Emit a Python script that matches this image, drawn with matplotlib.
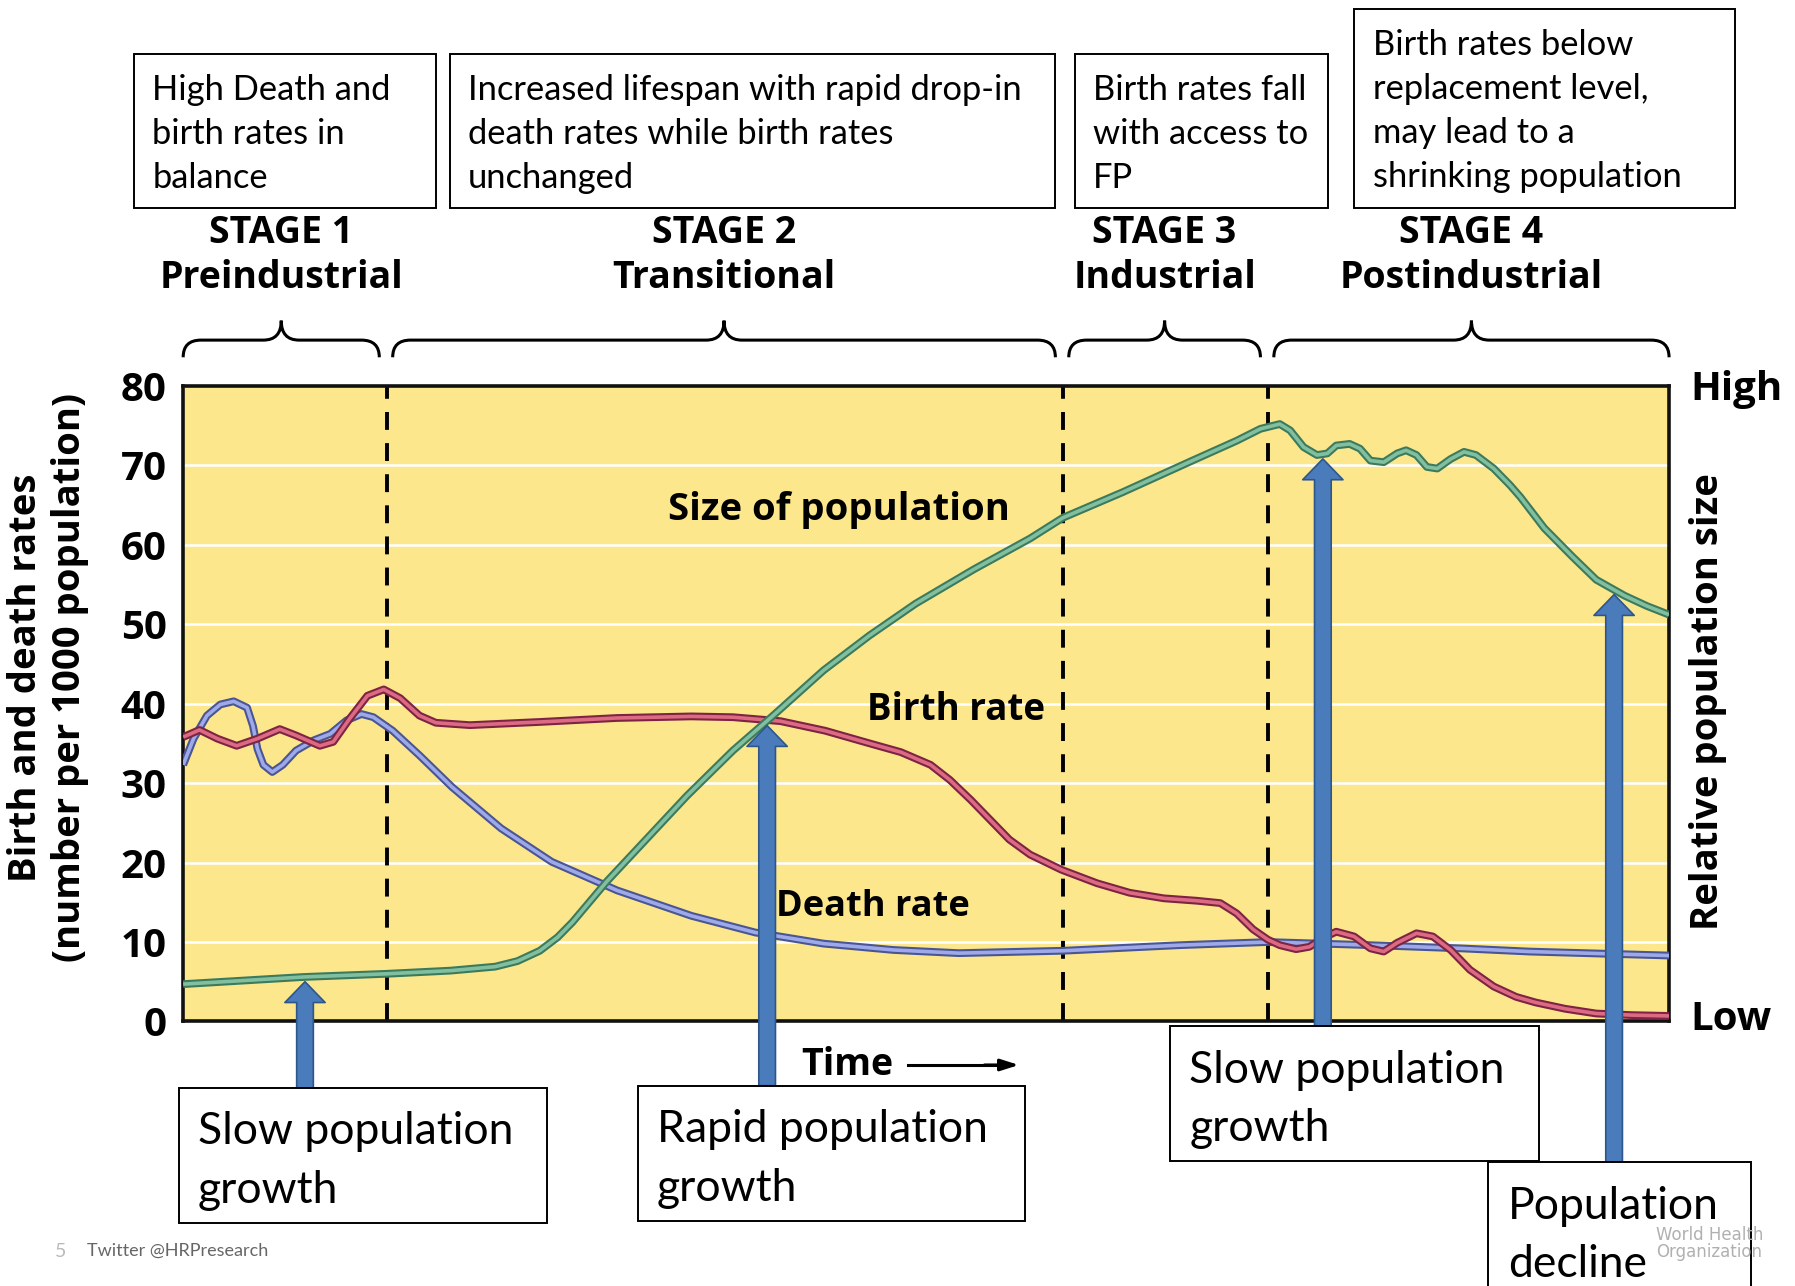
import numpy as np
import matplotlib.pyplot as plt
import matplotlib.transforms as mtransforms
from matplotlib.patches import Rectangle, PathPatch
from matplotlib.path import Path

# curves; time in arbitrary units 0-100
birth_t = [0.0, 1.1, 2.3, 3.6, 5.0, 6.5, 7.6, 9.2, 10.1, 11.2, 12.4, 13.5, 14.6, 15.9,
           17.0, 19.3, 24.0, 29.2, 34.2, 37.0, 40.2, 43.2, 46.2, 48.3, 50.3, 51.6, 53.0,
           54.3, 55.6, 57.0, 59.1, 61.5, 63.7, 66.0, 68.2, 69.8, 70.9, 72.0, 73.0, 73.8,
           74.9, 75.8, 76.7, 77.6, 78.8, 79.9, 80.8, 81.7, 83.0, 84.1, 85.3, 86.6, 88.2,
           89.7, 91.0, 93.0, 95.1, 97.5, 100.0]
birth_rate = [35.8, 36.7, 35.6, 34.7, 35.6, 36.8, 36.0, 34.7, 35.2, 38.1, 41.0, 41.8, 40.7, 38.5,
              37.6, 37.3, 37.7, 38.2, 38.4, 38.3, 37.8, 36.6, 35.0, 33.9, 32.3, 30.4, 27.9,
              25.4, 22.9, 21.0, 19.1, 17.4, 16.2, 15.5, 15.2, 14.9, 13.6, 11.6, 10.3, 9.6,
              9.1, 9.4, 10.5, 11.3, 10.7, 9.2, 8.8, 9.9, 11.1, 10.7, 9.0, 6.5, 4.4,
              3.1, 2.4, 1.6, 1.0, 0.8, 0.7]

death_t = [0.0, 0.7, 1.6, 2.5, 3.4, 4.3, 4.7, 5.0, 5.4, 6.0, 6.7, 7.6, 8.8, 9.9, 11.0,
           12.0, 12.8, 14.1, 15.9, 18.1, 21.4, 24.8, 29.2, 34.2, 38.5, 43.1, 47.8, 52.2,
           59.2, 67.0, 73.0, 80.0, 86.0, 90.6, 100.0]
death_rate = [32.3, 35.6, 38.5, 39.9, 40.3, 39.5, 37.2, 34.3, 32.3, 31.4, 32.3, 34.1, 35.4, 36.2, 37.9,
              38.7, 38.3, 36.6, 33.5, 29.5, 24.3, 20.1, 16.5, 13.3, 11.2, 9.8, 9.0, 8.6,
              8.9, 9.6, 10.0, 9.6, 9.2, 8.8, 8.3]

pop_t = [0.0, 8.1, 13.7, 18.0, 21.0, 22.5, 24.0, 25.2, 26.2, 28.5, 30.8, 33.9, 37.0, 39.7,
         43.1, 46.2, 49.3, 53.2, 57.0, 59.2, 63.2, 67.8, 70.9, 72.5, 73.8, 74.5, 75.4,
         76.3, 77.0, 77.6, 78.5, 79.2, 79.9, 80.8, 81.7, 82.3, 83.0, 83.7, 84.4, 85.3,
         86.2, 87.0, 88.2, 89.3, 90.0, 91.6, 93.5, 95.1, 97.0, 98.5, 100.0]
pop_size = [4.7, 5.6, 6.0, 6.4, 6.9, 7.6, 8.9, 10.6, 12.5, 17.6, 22.2, 28.4, 34.1, 38.5,
            44.2, 48.6, 52.6, 56.9, 60.8, 63.4, 66.6, 70.5, 73.1, 74.6, 75.2, 74.4, 72.3,
            71.3, 71.5, 72.5, 72.7, 72.1, 70.6, 70.4, 71.5, 71.9, 71.3, 69.8, 69.6, 70.8,
            71.7, 71.3, 69.6, 67.5, 66.0, 62.1, 58.5, 55.6, 53.6, 52.3, 51.2]

stage_bounds = [13.7, 59.2, 73.0]
stage_names = ['STAGE 1\nPreindustrial', 'STAGE 2\nTransitional',
               'STAGE 3\nIndustrial', 'STAGE 4\nPostindustrial']
stage_notes = ['High Death and\nbirth rates in\nbalance',
               'Increased lifespan with rapid drop-in\ndeath rates while birth rates\nunchanged',
               'Birth rates fall\nwith access to\nFP',
               'Birth rates below\nreplacement level,\nmay lead to a\nshrinking population']
outcome_notes = ['Slow population\ngrowth', 'Rapid population\ngrowth',
                 'Slow population\ngrowth', 'Population\ndecline']
outcome_t = [8.2, 39.3, 76.7, 96.3]
yticks = [0, 10, 20, 30, 40, 50, 60, 70, 80]

BOLD = 'Open Sans'
BOX = 'Lato'

# layout helpers (positions measured on a 1568x1123 view of the picture)
W, H = 1568, 1123
def fx(x):
    return x / W
def fy(y):
    return 1 - y / H

fig = plt.figure(figsize=(17.95, 12.86), dpi=100)
ax = fig.add_axes([fx(160), fy(892), fx(1458) - fx(160), fy(337) - fy(892)])
ax.set_facecolor('#FCE78C')
ax.set_xlim(0, 100)
ax.set_ylim(0, 80)

for y in yticks[1:-1]:
    ax.axhline(y, color='white', lw=1.8, zorder=1)
for b in stage_bounds:
    ax.axvline(b, color='black', lw=2.8, linestyle=(0, (4.6, 3.4)), zorder=2)

def tube(x, y, dark, light):
    ax.plot(x, y, color=dark, lw=5.6, solid_capstyle='butt', solid_joinstyle='round', zorder=3)
    ax.plot(x, y, color=light, lw=2.6, solid_capstyle='butt', solid_joinstyle='round', zorder=3)

tube(death_t, death_rate, '#4a5593', '#9ea9ea')
tube(birth_t, birth_rate, '#7d2343', '#dc6a83')
tube(pop_t, pop_size, '#3d7a5c', '#80c0a0')

ax.set_yticks(yticks)
ax.set_yticklabels([str(v) for v in yticks], fontfamily=BOLD, fontweight='bold', fontsize=29)
ax.set_xticks([])
ax.tick_params(axis='y', length=0, pad=12)
for s in ax.spines.values():
    s.set_linewidth(2.6)
    s.set_color('#111111')

ax.text(44.1, 64.4, 'Size of population', ha='center', va='center',
        fontfamily=BOLD, fontweight='bold', fontsize=27.5)
ax.text(52.0, 39.2, 'Birth rate', ha='center', va='center',
        fontfamily=BOLD, fontweight='bold', fontsize=26.5)
ax.text(46.4, 14.4, 'Death rate', ha='center', va='center',
        fontfamily=BOLD, fontweight='bold', fontsize=26)

# axis titles
fig.text(fx(42), fy(592), 'Birth and death rates\n(number per 1000 population)',
         rotation=90, ha='center', va='center', fontfamily=BOLD, fontweight='bold',
         fontsize=27.5, linespacing=1.2)
fig.text(fx(1492), fy(613), 'Relative population size', rotation=90, ha='center',
         va='center', fontfamily=BOLD, fontweight='bold', fontsize=27.5)
fig.text(fx(1477), fy(340), 'High', ha='left', va='center', fontfamily=BOLD,
         fontweight='bold', fontsize=29)
fig.text(fx(1477), fy(890), 'Low', ha='left', va='center', fontfamily=BOLD,
         fontweight='bold', fontsize=29)
fig.text(fx(740), fy(930), 'Time', ha='center', va='center', fontfamily=BOLD,
         fontweight='bold', fontsize=27)
fig.add_artist(plt.Line2D([fx(793), fx(872)], [fy(930), fy(930)], color='black', lw=2.2,
                          transform=fig.transFigure))
ax.annotate('', xy=(fx(890), fy(930)), xytext=(fx(860), fy(930)), xycoords='figure fraction',
            textcoords='figure fraction',
            arrowprops=dict(arrowstyle='-|>,head_length=1.1,head_width=0.35', color='black',
                            lw=2.2, shrinkA=0, shrinkB=0))

# stage braces and names
bt = mtransforms.blended_transform_factory(ax.transData, fig.transFigure)
edges = [0] + stage_bounds + [100]
for i, name in enumerate(stage_names):
    xa = edges[i] + (0.4 if i > 0 else 0)
    xb = edges[i + 1] - (0.5 if i < 3 else 0)
    xm = (xa + xb) / 2
    r = 1.2
    y_end, y_bar, y_tip = fy(312), fy(297), fy(280)
    verts = [(xa, y_end), (xa, y_bar), (xa + r, y_bar), (xm - r, y_bar),
             (xm, y_bar), (xm, y_tip), (xm, y_bar), (xm + r, y_bar),
             (xb - r, y_bar), (xb, y_bar), (xb, y_end)]
    codes = [Path.MOVETO, Path.CURVE3, Path.CURVE3, Path.LINETO,
             Path.CURVE3, Path.CURVE3, Path.CURVE3, Path.CURVE3,
             Path.LINETO, Path.CURVE3, Path.CURVE3]
    fig.add_artist(PathPatch(Path(verts, codes), fc='none', ec='black', lw=2.2,
                             transform=bt, clip_on=False))
    fig.text(xm, fy(223), name, transform=bt, ha='center', va='center',
             fontfamily=BOLD, fontweight='bold', fontsize=27, linespacing=1.23)

# note boxes above the chart
def box(x0, y0, x1, y1, text, size, pad, ty, ls):
    fig.add_artist(Rectangle((fx(x0), fy(y1)), fx(x1) - fx(x0), fy(y0) - fy(y1),
                             transform=fig.transFigure, fc='white', ec='black', lw=1.4))
    fig.text(fx(x0 + pad), fy(ty), text, ha='left', va='top', fontfamily=BOX,
             fontsize=size, linespacing=ls)

top_boxes = [(117, 47, 381, 182), (393, 47, 922, 182), (939, 47, 1160, 182), (1183, 8, 1516, 182)]
for (x0, y0, x1, y1), note in zip(top_boxes, stage_notes):
    box(x0, y0, x1, y1, note, 24.8, 16, y0 + 17.5, 1.46)

# outcome boxes and block arrows
bottom_boxes = [(156, 950, 478, 1068), (557, 948, 895, 1066),
                (1022, 896, 1344, 1014), (1300, 1015, 1530, 1140)]
for (x0, y0, x1, y1), note, t in zip(bottom_boxes, outcome_notes, outcome_t):
    tip = np.interp(t, pop_t, pop_size) - 0.6
    ax.annotate('', xy=(t, tip), xycoords='data', xytext=(t, fy(y0)), textcoords=bt,
                annotation_clip=False,
                arrowprops=dict(arrowstyle='simple,head_length=0.75,head_width=1.45,tail_width=0.6',
                                fc='#4a7bbb', ec='#2f568a', lw=1.2, shrinkA=0, shrinkB=0,
                                mutation_scale=20),
                zorder=5)
    box(x0, y0, x1, y1, note, 32, 17, y0 + 20.5, 1.53)

# footer and faint watermark
fig.text(fx(53), fy(1093), '5', ha='center', va='center', fontfamily=BOX, fontsize=14,
         color='#bbbbbb')
fig.text(fx(76), fy(1092), 'Twitter @HRPresearch', ha='left', va='center', fontfamily=BOX,
         fontsize=13, color='#666666')
fig.text(fx(1447), fy(1086), 'World Health\nOrganization', ha='left', va='center',
         fontfamily='DejaVu Sans', fontsize=12, color='#b0b0b0', linespacing=0.95)

fig.savefig('out.png', dpi=100, facecolor='white')
